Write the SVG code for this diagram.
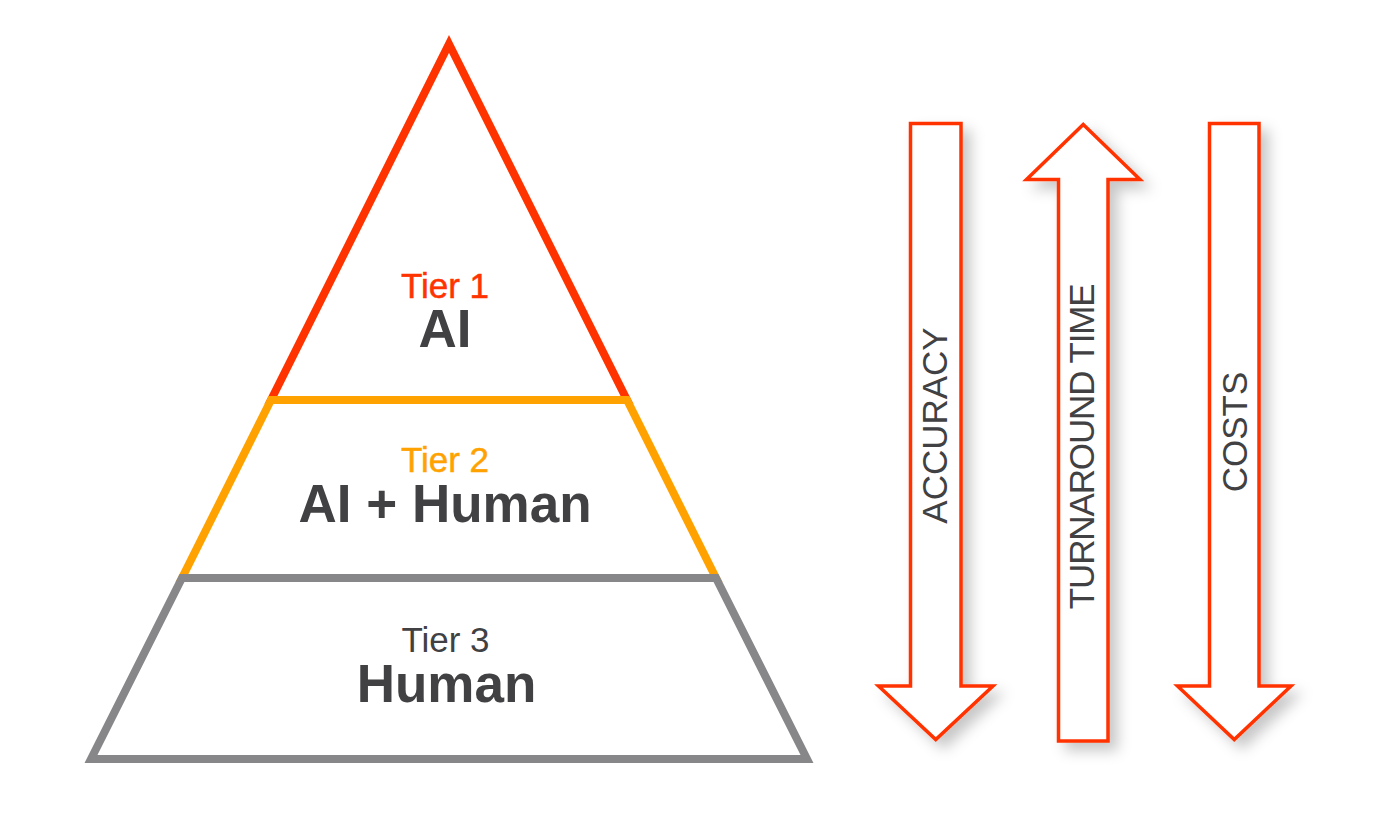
<svg xmlns="http://www.w3.org/2000/svg" width="1379" height="830" viewBox="0 0 1379 830">
  <style>
    .tier { fill: #ffffff; stroke-width: 8; stroke-linejoin: miter; stroke-miterlimit: 10; }
    .lbl { font-family: "Liberation Sans", Arial, sans-serif; text-anchor: middle; }
    .small { font-size: 35px; }
    .big { font-size: 53px; font-weight: bold; fill: #414143; }
    .arrow { fill: #ffffff; stroke: #ff3300; stroke-width: 3.5; stroke-linejoin: miter; filter: url(#shadow); }
    .alabel { font-family: "Liberation Sans", Arial, sans-serif; font-size: 35px; fill: #414143; text-anchor: middle; }
  </style>
  <defs>
    <filter id="shadow" x="-50%" y="-10%" width="200%" height="130%">
      <feDropShadow dx="8" dy="8" stdDeviation="7" flood-color="#000000" flood-opacity="0.22"/>
    </filter>
  </defs>
  <rect width="1379" height="830" fill="#ffffff"/>

  <g id="tier1">
    <polygon class="tier" stroke="#ff3300" points="449,44 627,400 271,400"/>
    <text class="lbl small" x="445" y="298" fill="#ff3300" stroke="#ff3300" stroke-width="0.5">Tier 1</text>
    <text class="lbl big" x="445" y="347">AI</text>
  </g>

  <g id="tier2">
    <polygon class="tier" stroke="#ffa200" points="271,400 627,400 716,578 182,578"/>
    <text class="lbl small" x="445" y="472" fill="#ffa200" stroke="#ffa200" stroke-width="0.5">Tier 2</text>
    <text class="lbl big" x="445" y="522">AI + Human</text>
  </g>

  <g id="tier3">
    <polygon class="tier" stroke="#87878a" points="182,578 716,578 807,759 91,759"/>
    <text class="lbl small" x="445.5" y="651.5" fill="#414143">Tier 3</text>
    <text class="lbl big" x="446.5" y="701.5">Human</text>
  </g>

  <g id="connectors">
    <g id="arrow-accuracy">
      <polygon class="arrow" points="910.5,123.5 961,123.5 961,686 993,686 935.75,739.5 878.5,686 910.5,686"/>
      <text class="alabel" transform="translate(946.5,425.5) rotate(-90)">ACCURACY</text>
    </g>
    <g id="arrow-turnaround">
      <polygon class="arrow" points="1083.25,124.5 1140,179.5 1108,179.5 1108,741 1058.5,741 1058.5,179.5 1026.5,179.5"/>
      <text class="alabel" transform="translate(1094,446.3) rotate(-90)" textLength="326">TURNAROUND TIME</text>
    </g>
    <g id="arrow-costs">
      <polygon class="arrow" points="1209.5,123.5 1259,123.5 1259,686 1291,686 1234.25,739.5 1177.5,686 1209.5,686"/>
      <text class="alabel" transform="translate(1246.5,432) rotate(-90)">COSTS</text>
    </g>
  </g>
</svg>
